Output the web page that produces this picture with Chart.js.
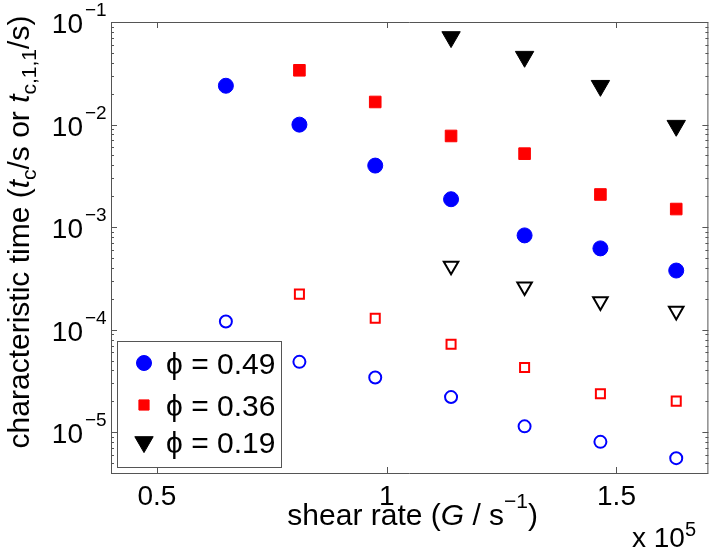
<!DOCTYPE html>
<html>
<head>
<meta charset="utf-8">
<script src="https://cdn.jsdelivr.net/npm/chart.js@4.4.0/dist/chart.umd.min.js"></script>
<style>
  html, body { margin: 0; padding: 0; background: #fff; }
</style>
</head>
<body>
<canvas id="myChart" width="720" height="549"></canvas>
<script>
/* eslint-disable no-undef */
const shearRate = [65000, 81000, 97500, 114000, 130000, 146500, 163000]
// phi = 0.49
const tc49 = [0.0239, 0.00998, 0.00398, 0.00187, 0.00083, 0.00062, 0.000377]
const tc11_49 = [1.2e-4, 4.85e-5, 3.41e-5, 2.2e-5, 1.14e-5, 8.05e-6, 5.58e-6]
// phi = 0.36
const tc36 = [null, 0.0338, 0.0166, 0.00774, 0.0052, 0.00208, 0.0015]
const tc11_36 = [null, 2.22e-4, 1.29e-4, 7.22e-5, 4.28e-5, 2.37e-5, 2.01e-5]
// phi = 0.19
const tc19 = [null, null, null, 0.0714, 0.0459, 0.0239, 0.00975]
const tc11_19 = [null, null, null, 4.19e-4, 2.63e-4, 1.88e-4, 1.52e-4]

const xTicks = [50000, 100000, 150000]
const yTicks = [1e-5, 1e-4, 1e-3, 1e-2, 1e-1]
const legendLabels = ['\u03d5 = 0.49', '\u03d5 = 0.36', '\u03d5 = 0.19']

const BLUE = '#0000ff'
const RED = '#ff0000'
const BLACK = '#000000'
const AXIS = '#555555'
const FONT = '"Liberation Sans", Arial, sans-serif'

const pts = (ys) => shearRate.map((x, i) => (ys[i] == null ? null : { x, y: ys[i] })).filter(Boolean)

const datasets = [
  { label: legendLabels[0], data: pts(tc49), pointStyle: 'circle', pointRadius: 7.5, borderWidth: 1,
    backgroundColor: BLUE, borderColor: BLUE },
  { label: legendLabels[1], data: pts(tc36), pointStyle: 'rect', pointRadius: 8.2, borderWidth: 1,
    backgroundColor: RED, borderColor: RED },
  { label: legendLabels[2], data: pts(tc19), pointStyle: 'triangle', rotation: 180, pointRadius: 10.6, borderWidth: 1,
    backgroundColor: BLACK, borderColor: BLACK },
  { label: 'open49', data: pts(tc11_49), pointStyle: 'circle', pointRadius: 6, borderWidth: 2,
    backgroundColor: 'rgba(0,0,0,0)', borderColor: BLUE },
  { label: 'open36', data: pts(tc11_36), pointStyle: 'rect', pointRadius: 6.4, borderWidth: 2,
    backgroundColor: 'rgba(0,0,0,0)', borderColor: RED },
  { label: 'open19', data: pts(tc11_19), pointStyle: 'triangle', rotation: 180, pointRadius: 8.4, borderWidth: 2,
    backgroundColor: 'rgba(0,0,0,0)', borderColor: BLACK },
]

// draw a run of text pieces: [text, size, italic, dy]
function drawRuns(ctx, runs, x, y) {
  let cx = x
  runs.forEach(([t, size, italic, dy]) => {
    ctx.font = (italic ? 'italic ' : '') + size + 'px ' + FONT
    ctx.fillText(t, cx, y + dy)
    cx += ctx.measureText(t).width
  })
  return cx - x
}
function runsWidth(ctx, runs) {
  let w = 0
  runs.forEach(([t, size, italic]) => {
    ctx.font = (italic ? 'italic ' : '') + size + 'px ' + FONT
    w += ctx.measureText(t).width
  })
  return w
}

const matlabAxes = {
  id: 'matlabAxes',
  afterDraw(chart) {
    const { ctx, chartArea: ca, scales } = chart
    const xs = scales.x
    const ys = scales.y
    ctx.save()
    ctx.strokeStyle = AXIS
    ctx.lineWidth = 1
    ctx.beginPath()
    ctx.rect(ca.left + 0.5, ca.top + 0.5, ca.right - ca.left - 1, ca.bottom - ca.top)
    // x ticks top and bottom
    xTicks.forEach((v) => {
      const px = Math.round(xs.getPixelForValue(v)) + 0.5
      ctx.moveTo(px, ca.bottom); ctx.lineTo(px, ca.bottom - 6)
      ctx.moveTo(px, ca.top); ctx.lineTo(px, ca.top + 6)
    })
    // y ticks, major and minor, both sides
    for (let d = -6; d <= -1; d++) {
      for (let m = 1; m <= 9; m++) {
        const v = m * Math.pow(10, d)
        if (v < ys.min || v > ys.max * 1.0001) continue
        const py = Math.round(ys.getPixelForValue(v)) + 0.5
        const len = m === 1 ? 6 : 3
        ctx.moveTo(ca.left, py); ctx.lineTo(ca.left + len, py)
        ctx.moveTo(ca.right, py); ctx.lineTo(ca.right - len, py)
      }
    }
    ctx.stroke()

    ctx.fillStyle = BLACK
    ctx.textBaseline = 'alphabetic'
    // x tick labels
    ctx.font = '28px ' + FONT
    ctx.textAlign = 'center'
    xTicks.forEach((v) => {
      ctx.fillText(String(v / 1e5), xs.getPixelForValue(v), ca.bottom + 32)
    })
    // y tick labels 10^n
    yTicks.forEach((v) => {
      const py = ys.getPixelForValue(v)
      const exp = Math.round(Math.log10(v))
      ctx.font = '28px ' + FONT
      ctx.textAlign = 'right'
      ctx.fillText('10', 83, py + 11)
      ctx.textAlign = 'left'
      ctx.font = '19px ' + FONT
      ctx.fillText('\u2212' + Math.abs(exp), 85, py - 6)
    })

    // x title
    ctx.textAlign = 'left'
    const xRuns = [['shear rate (', 30, false, 0], ['G', 30, true, 0], [' / s', 30, false, 0],
      ['\u22121', 21, false, -17], [')', 30, false, 0]]
    const xw = runsWidth(ctx, xRuns)
    drawRuns(ctx, xRuns, (ca.left + ca.right) / 2 - xw / 2 + 3, 525)

    // multiplier
    drawRuns(ctx, [['x 10', 28, false, 0], ['5', 20, false, -11]], 632, 547)

    // y title, rotated
    const yRuns = [['characteristic time (', 30, false, 0], ['t', 30, true, 0], ['c', 21, false, 7],
      ['/s or ', 30, false, 0], ['t', 30, true, 0], ['c,1,1', 21, false, 7], ['/s)', 30, false, 0]]
    const yw = runsWidth(ctx, yRuns)
    ctx.save()
    ctx.translate(29, 232)
    ctx.rotate(-Math.PI / 2)
    drawRuns(ctx, yRuns, -yw / 2, 0)
    ctx.restore()

    // legend box
    const lx = ca.left + 6
    const ly = ca.bottom - 132
    ctx.fillStyle = '#ffffff'
    ctx.fillRect(lx, ly, 164, 126)
    ctx.strokeStyle = AXIS
    ctx.strokeRect(lx + 0.5, ly + 0.5, 164, 126)
    const rowY = [22, 64, 101]
    for (let i = 0; i < 3; i++) {
      const ds = chart.data.datasets[i]
      ctx.fillStyle = ds.backgroundColor
      ctx.strokeStyle = ds.borderColor
      ctx.lineWidth = ds.borderWidth
      Chart.helpers.drawPoint(ctx, {
        pointStyle: ds.pointStyle, rotation: ds.rotation || 0,
        radius: i === 1 ? 7.2 : ds.pointRadius, borderWidth: ds.borderWidth,
      }, lx + 27, ly + rowY[i])
      ctx.fillStyle = BLACK
      ctx.font = '30px ' + FONT
      ctx.textAlign = 'left'
      ctx.fillText(legendLabels[i], lx + 49, ly + rowY[i] + 11)
    }
    ctx.restore()
  },
}

const ctx = document.getElementById('myChart').getContext('2d')
const myChart = new Chart(ctx, {
  type: 'scatter',
  data: { datasets },
  options: {
    responsive: false,
    animation: false,
    devicePixelRatio: 1,
    layout: { padding: { top: 22, right: 1, left: 0, bottom: 0 } },
    plugins: { legend: { display: false }, tooltip: { enabled: false } },
    scales: {
      x: {
        type: 'linear',
        min: 40000,
        max: 170000,
        afterBuildTicks: (scale) => { scale.ticks = xTicks.map((v) => ({ value: v })) },
        afterFit: (scale) => { scale.height = 76 },
        grid: { display: false },
        border: { display: false },
        ticks: { display: false },
      },
      y: {
        type: 'logarithmic',
        min: 4e-6,
        max: 0.1,
        afterFit: (scale) => { scale.width = 111 },
        grid: { display: false },
        border: { display: false },
        ticks: { display: false },
      },
    },
  },
  plugins: [matlabAxes],
})
</script>
</body>
</html>
